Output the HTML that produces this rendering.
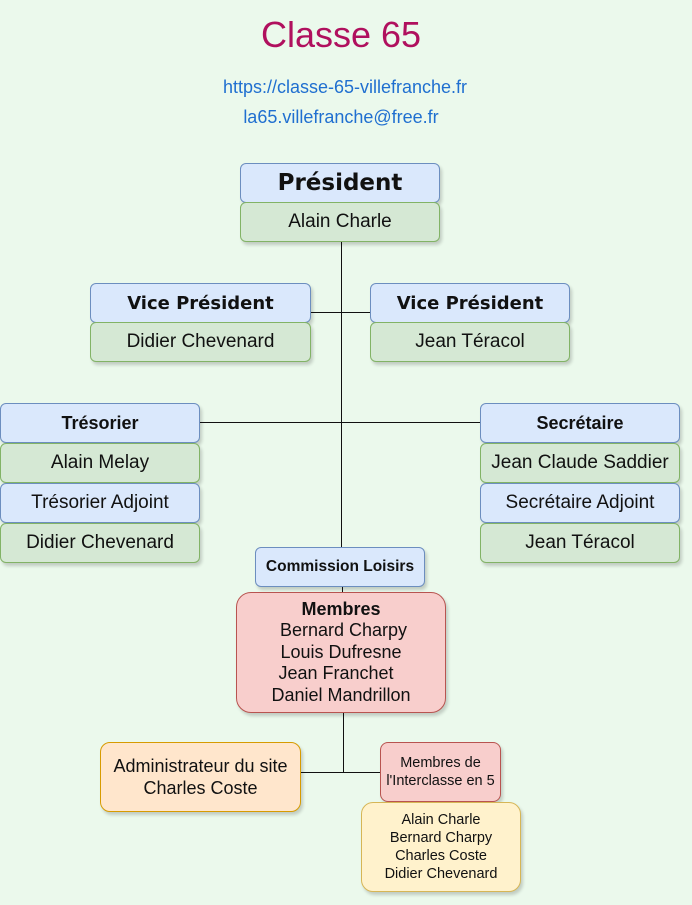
<!DOCTYPE html>
<html><head><meta charset="utf-8"><style>
body{margin:0;width:692px;height:905px;background:#ebf9ec;position:relative;overflow:hidden;font-family:"Liberation Sans",sans-serif;color:#111}
.b{position:absolute;box-sizing:border-box;display:flex;align-items:center;justify-content:center;text-align:center;border-radius:6px;box-shadow:2px 3px 3px rgba(0,0,0,0.18);white-space:nowrap}
.bl{background:#dae8fc;border:1px solid #6c8ebf}
.gr{background:#d5e8d4;border:1px solid #82b366}
.v{font-family:"DejaVu Sans",sans-serif;font-weight:bold}
.l{position:absolute;background:#111}
</style></head><body>
<div style="position:absolute;left:0;width:682px;top:14px;text-align:center;font-size:36px;color:#b0105e">Classe 65</div>
<div style="position:absolute;left:0;width:690px;top:77px;text-align:center;font-size:18px;color:#1f6fd0">https://classe-65-villefranche.fr</div>
<div style="position:absolute;left:0;width:682px;top:107px;text-align:center;font-size:18px;color:#1f6fd0">la65.villefranche@free.fr</div>

<div class="l" style="left:341px;top:242px;width:1px;height:305px"></div>
<div class="l" style="left:311px;top:312px;width:59px;height:1px"></div>
<div class="l" style="left:200px;top:422px;width:280px;height:1px"></div>
<div class="l" style="left:342px;top:587px;width:1px;height:6px"></div>
<div class="l" style="left:343px;top:712px;width:1px;height:60px"></div>
<div class="l" style="left:300px;top:772px;width:80px;height:1px"></div>

<div class="b bl v" style="left:240px;top:163px;width:200px;height:40px;font-size:23px">Président</div>
<div class="b gr" style="left:240px;top:202px;width:200px;height:40px;font-size:19px">Alain Charle</div>

<div class="b bl v" style="left:90px;top:283px;width:221px;height:40px;font-size:18px">Vice Président</div>
<div class="b gr" style="left:90px;top:322px;width:221px;height:40px;font-size:19px">Didier Chevenard</div>
<div class="b bl v" style="left:370px;top:283px;width:200px;height:40px;font-size:18px">Vice Président</div>
<div class="b gr" style="left:370px;top:322px;width:200px;height:40px;font-size:19px">Jean Téracol</div>

<div class="b bl" style="left:0;top:403px;width:200px;height:40px;font-size:18px;font-weight:bold">Trésorier</div>
<div class="b gr" style="left:0;top:443px;width:200px;height:40px;font-size:19px">Alain Melay</div>
<div class="b bl" style="left:0;top:483px;width:200px;height:40px;font-size:19px">Trésorier Adjoint</div>
<div class="b gr" style="left:0;top:523px;width:200px;height:40px;font-size:19px">Didier Chevenard</div>

<div class="b bl" style="left:480px;top:403px;width:200px;height:40px;font-size:18px;font-weight:bold">Secrétaire</div>
<div class="b gr" style="left:480px;top:443px;width:200px;height:40px;font-size:19px">Jean Claude Saddier</div>
<div class="b bl" style="left:480px;top:483px;width:200px;height:40px;font-size:19px">Secrétaire Adjoint</div>
<div class="b gr" style="left:480px;top:523px;width:200px;height:40px;font-size:19px">Jean Téracol</div>

<div class="b bl" style="left:255px;top:547px;width:170px;height:40px;font-size:15.5px;font-weight:bold">Commission Loisirs</div>
<div class="b" style="left:236px;top:592px;width:210px;height:121px;border-radius:15px;background:#f8cecc;border:1px solid #b85450;font-size:18px;line-height:21.5px">
<div><b>Membres</b><br>&nbsp;Bernard Charpy<br>Louis Dufresne<br>Jean Franchet&nbsp;&nbsp;<br>Daniel Mandrillon</div></div>

<div class="b" style="left:100px;top:742px;width:201px;height:70px;border-radius:10px;background:#ffe6cc;border:1px solid #d79b00;font-size:18px;line-height:22px">Administrateur du site<br>Charles Coste</div>
<div class="b" style="left:380px;top:742px;width:121px;height:60px;border-radius:8px;background:#f8cecc;border:1px solid #b85450;font-size:14.5px;line-height:18px">Membres de<br>l'Interclasse en 5</div>
<div class="b" style="left:361px;top:802px;width:160px;height:90px;border-radius:12px;background:#fff2cc;border:1px solid #d6b656;font-size:14.5px;line-height:18px">Alain Charle<br>Bernard Charpy<br>Charles Coste<br>Didier Chevenard</div>
</body></html>
